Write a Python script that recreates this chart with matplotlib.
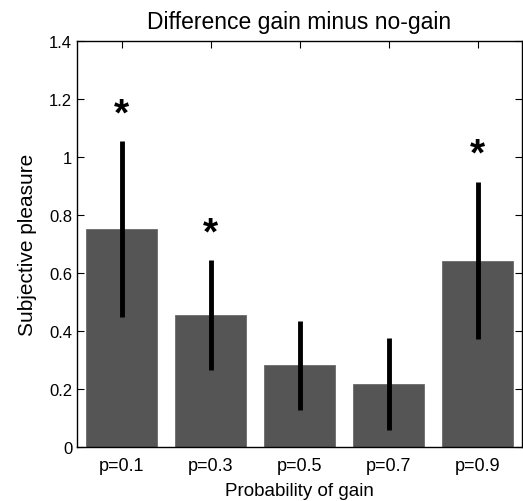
import matplotlib
matplotlib.use("Agg")
import matplotlib.pyplot as plt
import numpy as np

plt.rcParams['font.family'] = ['Liberation Sans', 'DejaVu Sans']

categories = ["p=0.1", "p=0.3", "p=0.5", "p=0.7", "p=0.9"]
means = [0.752, 0.455, 0.282, 0.217, 0.643]
errors = [0.304, 0.19, 0.153, 0.16, 0.272]
significant = [True, True, False, False, True]

fig = plt.figure(figsize=(5.23, 5.02), dpi=100)
ax = fig.add_axes([77/523, 1 - 448/502, 445/523, 406/502])

x = np.arange(1, len(categories) + 1)
ax.bar(x, means, width=0.8, color='#555555', edgecolor='#6a6a6a', linewidth=0.6, zorder=2)
ax.errorbar(x, means, yerr=errors, fmt='none', ecolor='black', elinewidth=3.5, capsize=0, zorder=3)
for xi, m, e, s in zip(x, means, errors, significant):
    if s:
        ax.text(xi, m + e + 0.03, '*', ha='center', va='bottom', fontsize=28, fontweight='bold')

ax.set_xlim(0.5, 5.5)
ax.set_ylim(0, 1.4)
ax.set_xticks(x)
ax.set_xticklabels(categories)
ax.set_yticks(np.arange(0, 1.41, 0.2))
ax.set_yticklabels(['0', '0.2', '0.4', '0.6', '0.8', '1', '1.2', '1.4'])
ax.tick_params(direction='in', top=True, right=True, labelsize=12, length=5, width=0.8)
ax.tick_params(axis='x', pad=7, labelsize=13)
for sp in ax.spines.values():
    sp.set_linewidth(1.0)

ax.set_title('Difference gain minus no-gain', fontsize=16.5, pad=9)
ax.set_ylabel('Subjective pleasure', fontsize=15, labelpad=9)
ax.set_xlabel('Probability of gain', fontsize=13.5, labelpad=6)

fig.savefig('out.png', dpi=100)
